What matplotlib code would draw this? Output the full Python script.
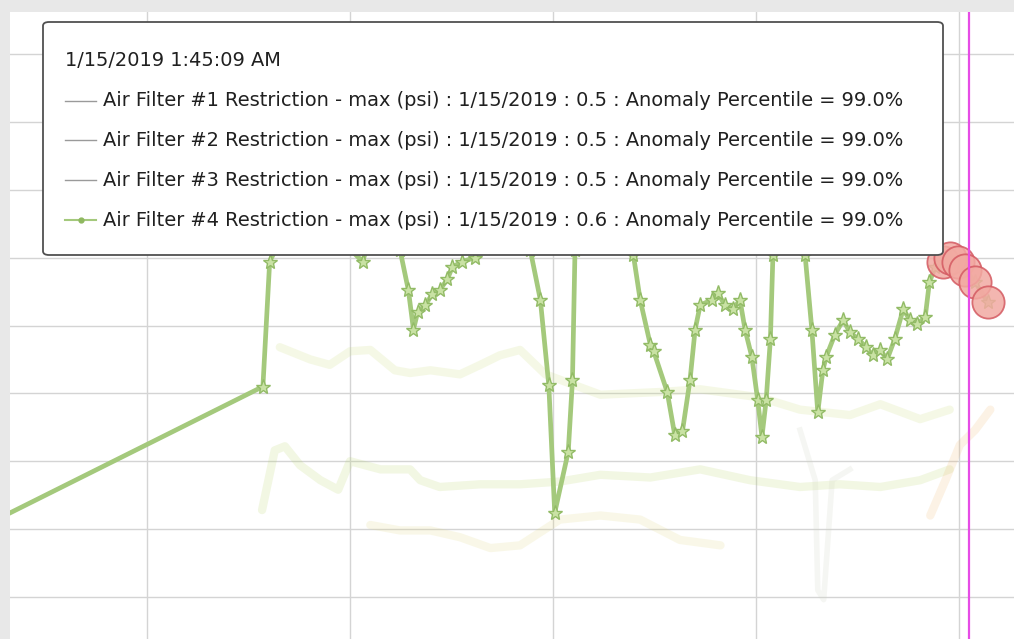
import numpy as np
import matplotlib
matplotlib.use("Agg")
import matplotlib.pyplot as plt
from matplotlib.patches import FancyBboxPatch
from matplotlib.lines import Line2D

# ---
# Data (hours since 1/11/2019 00:00, psi)
# ---

# Air Filter #4 restriction (main series)
f4_hours = [-19.7, 13.7, 14.5, 18.1, 25.5, 27.6, 29.9, 30.9, 31.5, 32.0, 32.9, 33.7,
            34.6, 35.5, 36.1, 37.2, 38.8, 41.1, 45.3, 46.5, 47.5, 48.2, 49.8, 50.3,
            50.6, 53.6, 57.5, 58.3, 59.5, 59.9, 61.5, 62.4, 63.3, 64.2, 64.8, 65.4,
            66.8, 67.5, 68.3, 69.3, 70.1, 70.7, 71.5, 72.2, 72.7, 73.2, 73.7, 74.0,
            76.0, 77.8, 78.6, 79.3, 79.9, 80.3, 81.3, 82.3, 83.1, 84.1, 85.0, 85.8,
            86.7, 87.5, 88.4, 89.4, 90.2, 91.0, 92.0, 92.5, 93.2, 94.1, 94.9, 95.9,
            96.7, 97.9, 99.4]
f4_psi = [0.401, 0.505, 0.597, 0.643, 0.597, 0.643, 0.606, 0.576, 0.547, 0.560, 0.565, 0.573,
          0.576, 0.584, 0.593, 0.597, 0.600, 0.643, 0.606, 0.569, 0.506, 0.412, 0.457, 0.510,
          0.606, 0.643, 0.602, 0.569, 0.536, 0.531, 0.501, 0.469, 0.472, 0.510, 0.547, 0.565,
          0.569, 0.574, 0.565, 0.562, 0.569, 0.547, 0.527, 0.495, 0.468, 0.495, 0.540, 0.602,
          0.643, 0.602, 0.547, 0.486, 0.517, 0.527, 0.543, 0.554, 0.545, 0.540, 0.534, 0.528,
          0.532, 0.525, 0.540, 0.562, 0.554, 0.551, 0.556, 0.582, 0.593, 0.597, 0.600, 0.597,
          0.591, 0.582, 0.567]

# anomalies flagged on Air Filter #4
anom_hours = [94.1, 94.9, 95.9, 96.7, 97.9, 99.4]
anom_psi = [0.597, 0.600, 0.597, 0.591, 0.582, 0.567]

# faded (unselected) series in the background
ghost_a_hours = [15.7, 19.3, 21.6, 24.0, 26.4, 29.3, 31.1, 33.5, 37.0, 39.4, 41.7, 44.1,
                 47.1, 53.6, 60.7, 65.4, 72.5, 77.2, 83.1, 86.7, 91.4, 94.9]
ghost_a_psi = [0.534, 0.525, 0.521, 0.531, 0.532, 0.517, 0.515, 0.517, 0.514, 0.521, 0.528, 0.532,
               0.514, 0.499, 0.501, 0.503, 0.497, 0.488, 0.484, 0.492, 0.481, 0.488]

ghost_b_hours = [13.6, 15.1, 16.3, 18.1, 20.5, 22.6, 24.0, 27.6, 31.1, 32.3, 34.6, 39.4,
                 44.1, 48.8, 53.6, 59.5, 65.4, 71.3, 77.2, 81.9, 86.7, 91.4, 94.9]
ghost_b_psi = [0.414, 0.458, 0.461, 0.447, 0.436, 0.429, 0.450, 0.444, 0.444, 0.436, 0.431, 0.433,
               0.433, 0.435, 0.440, 0.438, 0.444, 0.436, 0.431, 0.433, 0.431, 0.436, 0.444]

ghost_c_hours = [26.4, 29.9, 33.5, 37.0, 40.6, 44.1, 48.8, 53.6, 58.3, 63.0, 67.8]
ghost_c_psi = [0.403, 0.399, 0.399, 0.394, 0.386, 0.388, 0.407, 0.410, 0.407, 0.392, 0.388]

ghost_d_hours = [77.2, 79.0, 79.3, 80.0, 81.0, 83.1]
ghost_d_psi = [0.473, 0.436, 0.355, 0.348, 0.436, 0.444]

ghost_e_hours = [92.6, 94.4, 96.1, 97.9, 99.7]
ghost_e_psi = [0.410, 0.436, 0.462, 0.473, 0.488]

cursor_hour = 97.2

tooltip_title = "1/15/2019 1:45:09 AM"
tooltip_rows = [
    "Air Filter #1 Restriction - max (psi) : 1/15/2019 : 0.5 : Anomaly Percentile = 99.0%",
    "Air Filter #2 Restriction - max (psi) : 1/15/2019 : 0.5 : Anomaly Percentile = 99.0%",
    "Air Filter #3 Restriction - max (psi) : 1/15/2019 : 0.5 : Anomaly Percentile = 99.0%",
    "Air Filter #4 Restriction - max (psi) : 1/15/2019 : 0.6 : Anomaly Percentile = 99.0%",
]

# ---
# Figure
# ---

W, H = 1014, 639
fig = plt.figure(figsize=(W / 100, H / 100), dpi=100, facecolor="#e8e8e8")
ax = fig.add_axes([10 / W, 0, 1 - 10 / W, 1 - 12 / H])
ax.set_facecolor("white")
ax.set_xlim(-16.2, 102.5)
ax.set_ylim(0.319, 0.781)
ax.set_xticks([0, 24, 48, 72, 96])
ax.set_yticks(np.arange(0.35, 0.76, 0.05))
ax.grid(True, color="#d4d4d4", lw=1)
ax.tick_params(length=0, labelbottom=False, labelleft=False)
for s in ax.spines.values():
    s.set_visible(False)

# ghosts
ghost_style = dict(lw=6, alpha=0.18, solid_capstyle="round", solid_joinstyle="round")
ax.plot(ghost_a_hours, ghost_a_psi, color="#c8dc78", **ghost_style)
ax.plot(ghost_b_hours, ghost_b_psi, color="#b8d468", **ghost_style)
ax.plot(ghost_c_hours, ghost_c_psi, color="#e0d880", **ghost_style)
ax.plot(ghost_d_hours, ghost_d_psi, color="#d0d4c4", lw=4, alpha=0.2)
ax.plot(ghost_e_hours, ghost_e_psi, color="#f0b870", **ghost_style)

# main series
ax.plot(f4_hours, f4_psi, color="#a4c97c", lw=3.4, zorder=3,
        marker="*", ms=11, mfc="#c9e2a4", mec="#92bb66", mew=1)

# anomalies
ax.scatter(anom_hours, anom_psi, s=540, color="#f2aaa2", edgecolor="#d45a62",
           lw=1.3, alpha=0.85, zorder=4)

ax.axvline(cursor_hour, color="#e64ce6", lw=1.6, zorder=9)

# ---
# Tooltip
# ---

bx0, bx1 = 43 / W, 943 / W
by0, by1 = 1 - 255 / H, 1 - 22 / H
box = FancyBboxPatch((bx0, by0), bx1 - bx0, by1 - by0,
                     boxstyle="round,pad=0,rounding_size=0.006",
                     transform=fig.transFigure, fc="white", ec="#505050", lw=1.3,
                     zorder=6, clip_on=False)
ax.add_patch(box)

font = "DejaVu Sans"
t = fig.text(65 / W, 1 - 60 / H, tooltip_title, ha="left", va="center",
             fontsize=11, family=font, color="#202020", zorder=7)
row_y = [101, 140, 180, 220]
row_texts = []
for i, (row, y) in enumerate(zip(tooltip_rows, row_y)):
    row_texts.append(fig.text(103 / W, 1 - y / H, row, ha="left", va="center",
                              fontsize=11, family=font, color="#202020", zorder=7))
    if i < 3:
        fig.add_artist(Line2D([65 / W, 96 / W], [1 - y / H] * 2, color="#9a9a9a", lw=1,
                              transform=fig.transFigure, zorder=7))
    else:
        fig.add_artist(Line2D([65 / W, 96 / W], [1 - y / H] * 2, color="#a4c97c", lw=1.5,
                              transform=fig.transFigure, zorder=7))
        fig.add_artist(Line2D([80.5 / W], [1 - y / H], color="#8fb860", marker="o", ms=3.5,
                              transform=fig.transFigure, zorder=8))

# fit font size so the rows span the same width as in the tooltip
fig.canvas.draw()
r = fig.canvas.get_renderer()
wpx = row_texts[0].get_window_extent(r).width
size = 11 * 797 / wpx
for tx in row_texts + [t]:
    tx.set_fontsize(size)

fig.savefig("out.png", dpi=100, facecolor=fig.get_facecolor())
